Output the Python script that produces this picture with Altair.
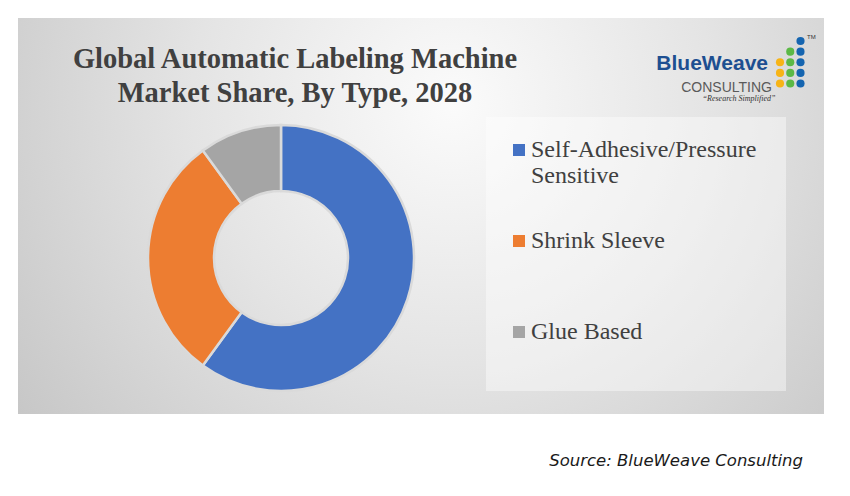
import altair as alt
import pandas as pd

# ---- data ----
types = ["Self-Adhesive/Pressure Sensitive", "Shrink Sleeve", "Glue Based"]
legend_labels = ["Self-Adhesive/Pressure\nSensitive", "Shrink Sleeve", "Glue Based"]
shares = [60, 30, 10]
colors = ["#4472c4", "#ed7d31", "#a5a5a5"]

title_text = "Global Automatic Labeling Machine\nMarket Share, By Type, 2028"
source_text = "Source: BlueWeave Consulting"

# logo dot grid (column index, row index, colour)
dot_cols = [2, 1, 2, 0, 1, 2, 0, 1, 2, 0, 1, 2]
dot_rows = [0, 1, 1, 2, 2, 2, 3, 3, 3, 4, 4, 4]
dot_colors = ["#1565b0", "#5cb946", "#1565b0", "#f7b416", "#5cb946", "#1565b0",
              "#f7b416", "#5cb946", "#1565b0", "#f7b416", "#5cb946", "#1565b0"]

df = pd.DataFrame({"type": types, "label": legend_labels, "share": shares,
                   "idx": list(range(len(types)))})
dots = pd.DataFrame({"col": dot_cols, "row": dot_rows, "c": dot_colors})
one = pd.DataFrame({"k": [0]})

W, H = 834, 480

panel = alt.Chart(one).mark_rect(
    color=alt.Gradient(
        gradient="radial",
        x1=0.54, y1=0.36, r1=0.0,
        x2=0.54, y2=0.36, r2=0.72,
        stops=[alt.GradientStop(offset=0, color="#fbfbfb"),
               alt.GradientStop(offset=0.45, color="#e4e4e4"),
               alt.GradientStop(offset=1, color="#c2c2c2")],
    )
).encode(x=alt.value(10), x2=alt.value(816), y=alt.value(10), y2=alt.value(406))

legend_box = alt.Chart(one).mark_rect(color="white", opacity=0.42).encode(
    x=alt.value(478), x2=alt.value(778), y=alt.value(109), y2=alt.value(383))

donut = alt.Chart(df).mark_arc(outerRadius=133, innerRadius=67,
                               stroke="#dadada", strokeWidth=2.5).encode(
    theta=alt.Theta("share:Q", stack=True),
    color=alt.Color("type:N", scale=alt.Scale(domain=types, range=colors), legend=None),
    order=alt.Order("idx:Q"),
    x=alt.value(273), y=alt.value(250),
)

leg_y = alt.Y("type:N", scale=alt.Scale(type="point", domain=types, range=[142, 324], padding=0), axis=None)
leg_sym = alt.Chart(df).mark_square(size=144, opacity=1).encode(
    x=alt.value(511), y=leg_y,
    color=alt.Color("type:N", scale=alt.Scale(domain=types, range=colors), legend=None))
leg_txt = alt.Chart(df).mark_text(
    align="left", baseline="alphabetic", dy=7, font="Liberation Serif",
    fontSize=24, color="#404040", lineBreak="\n", lineHeight=26).encode(
    x=alt.value(523), y=leg_y, text="label:N")

title = alt.Chart(pd.DataFrame({"t": [title_text]})).mark_text(
    align="center", baseline="alphabetic", font="Liberation Serif", fontWeight="bold",
    fontSize=28.5, color="#404040", lineBreak="\n", lineHeight=34).encode(
    x=alt.value(287), y=alt.value(60), text="t:N")

source = alt.Chart(pd.DataFrame({"t": [source_text]})).mark_text(
    align="right", baseline="alphabetic", font="DejaVu Sans", fontStyle="italic",
    fontSize=16.5, color="#1a1a1a").encode(
    x=alt.value(795), y=alt.value(458), text="t:N")

logo1 = alt.Chart(pd.DataFrame({"t": ["BlueWeave"]})).mark_text(
    align="right", baseline="alphabetic", font="Liberation Sans",
    fontWeight="bold", fontSize=21, color="#1d4f91").encode(
    x=alt.value(760), y=alt.value(62), text="t:N")
logo2 = alt.Chart(pd.DataFrame({"t": ["CONSULTING"]})).mark_text(
    align="right", baseline="alphabetic", font="Liberation Sans",
    fontSize=14, color="#5a5a5a").encode(
    x=alt.value(764), y=alt.value(84), text="t:N")
logo3 = alt.Chart(pd.DataFrame({"t": ["\u201cResearch Simplified\u201d"]})).mark_text(
    align="center", baseline="alphabetic", font="Liberation Serif", fontStyle="italic",
    fontSize=8, color="#333333").encode(
    x=alt.value(731), y=alt.value(93), text="t:N")
logo_tm = alt.Chart(pd.DataFrame({"t": ["TM"]})).mark_text(
    align="left", baseline="alphabetic", font="Liberation Sans", fontSize=6,
    color="#333333").encode(x=alt.value(799), y=alt.value(31), text="t:N")
logo_dots = alt.Chart(dots).mark_circle(size=66, opacity=1).encode(
    x=alt.X("col:O", scale=alt.Scale(type="point", domain=[0, 1, 2], range=[772, 792.5], padding=0), axis=None),
    y=alt.Y("row:O", scale=alt.Scale(type="point", domain=[0, 1, 2, 3, 4], range=[33, 75.5], padding=0), axis=None),
    color=alt.Color("c:N", scale=None),
)

chart = alt.layer(
    panel, legend_box, donut, leg_sym, leg_txt, title, source,
    logo1, logo2, logo3, logo_tm, logo_dots
).resolve_scale(x="independent", y="independent", color="independent").properties(
    width=W, height=H, autosize=alt.AutoSizeParams(type="none"), padding=0,
    background="white"
).configure_view(stroke=None)

chart.save("out.html", embed_options={"renderer": "svg", "actions": False})
